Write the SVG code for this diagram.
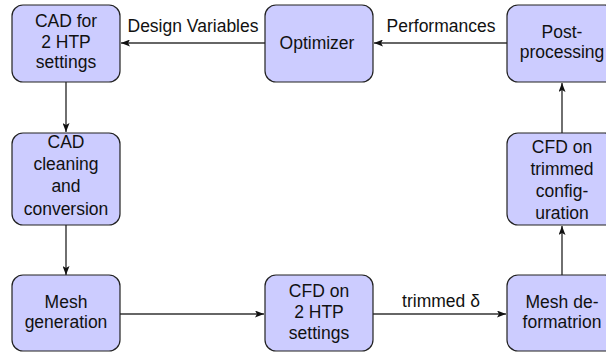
<svg xmlns="http://www.w3.org/2000/svg" width="606" height="352" viewBox="0 0 606 352">
<defs>
<marker id="ah" markerWidth="9" markerHeight="7" refX="9" refY="3.5" orient="auto" markerUnits="userSpaceOnUse">
<path d="M0,0 L9,3.5 L0,7 L2,3.5 Z" fill="#111"/>
</marker>
<style>
.node rect{fill:#ccccff;stroke:#222;stroke-width:1.2}
text{font-family:"Liberation Sans",Arial,sans-serif;font-size:17.5px;fill:#111}
.node text{text-anchor:middle}
.edge{stroke:#333;stroke-width:1.4;fill:none;marker-end:url(#ah)}
.lbl{text-anchor:middle}
</style>
</defs>
<rect width="606" height="352" fill="#fff"/>
<g id="connectors">
<line class="edge" x1="265" y1="43" x2="121" y2="43"/>
<line class="edge" x1="507" y1="43" x2="374" y2="43"/>
<line class="edge" x1="66" y1="82" x2="66" y2="132"/>
<line class="edge" x1="66" y1="225" x2="66" y2="275"/>
<line class="edge" x1="120" y1="314" x2="264" y2="314"/>
<line class="edge" x1="373" y1="314" x2="506" y2="314"/>
<line class="edge" x1="562" y1="275" x2="562" y2="226"/>
<line class="edge" x1="562" y1="133" x2="562" y2="83"/>
<text class="lbl" x="193" y="32">Design Variables</text>
<text class="lbl" x="441" y="32">Performances</text>
<text class="lbl" x="441" y="307">trimmed δ</text>
</g>
<g id="cad" class="node">
<rect x="12" y="5" width="108" height="77" rx="11"/>
<text x="66" y="27">CAD for</text>
<text x="66" y="48">2 HTP</text>
<text x="66" y="68">settings</text>
</g>
<g id="optimizer" class="node">
<rect x="265" y="5" width="108" height="77" rx="11"/>
<text x="317" y="49">Optimizer</text>
</g>
<g id="post" class="node">
<rect x="507" y="5" width="109" height="77" rx="11"/>
<text x="562" y="38">Post-</text>
<text x="562" y="58">processing</text>
</g>
<g id="cleaning" class="node">
<rect x="12" y="133" width="108" height="92" rx="11"/>
<text x="66" y="148">CAD</text>
<text x="66" y="170">cleaning</text>
<text x="66" y="192">and</text>
<text x="66" y="215">conversion</text>
</g>
<g id="cfdtrim" class="node">
<rect x="507" y="133" width="109" height="92" rx="11"/>
<text x="562" y="153">CFD on</text>
<text x="562" y="175">trimmed</text>
<text x="562" y="197">config-</text>
<text x="562" y="219">uration</text>
</g>
<g id="mesh" class="node">
<rect x="12" y="275" width="108" height="76" rx="11"/>
<text x="66" y="308">Mesh</text>
<text x="66" y="328">generation</text>
</g>
<g id="cfd2" class="node">
<rect x="265" y="275" width="108" height="76" rx="11"/>
<text x="319" y="297">CFD on</text>
<text x="319" y="318">2 HTP</text>
<text x="319" y="339">settings</text>
</g>
<g id="meshdef" class="node">
<rect x="507" y="275" width="109" height="76" rx="11"/>
<text x="562" y="308">Mesh de-</text>
<text x="562" y="328">formatrion</text>
</g>
</svg>
